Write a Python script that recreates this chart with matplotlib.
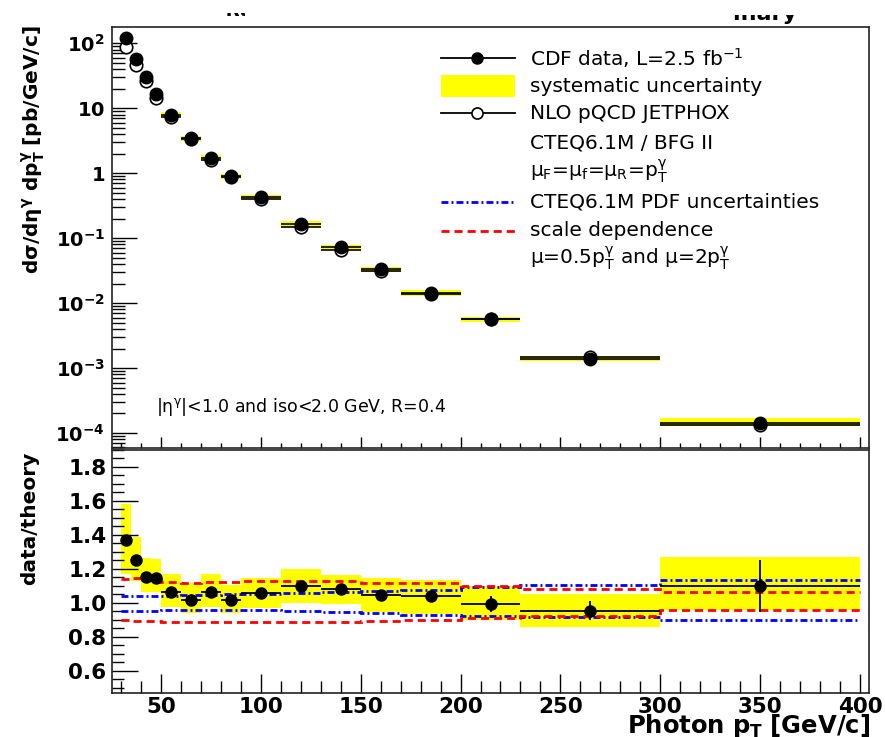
import numpy as np
import matplotlib
matplotlib.use('Agg')
import matplotlib.pyplot as plt
from matplotlib.lines import Line2D
from matplotlib.patches import Rectangle
from matplotlib.ticker import FixedLocator, FixedFormatter, MultipleLocator, LogLocator, NullFormatter

plt.rcParams['font.family'] = ['DejaVu Sans']
plt.rcParams['mathtext.fontset'] = 'dejavusans'

W, H = 885, 737

# photon pT bins, GeV/c
edges = np.array([30, 35, 40, 45, 50, 60, 70, 80, 90, 110, 130, 150, 170, 200, 230, 300, 400])

# d sigma / d eta dpT, pb/GeV/c
data_xs = np.array([120, 58, 30, 16.6, 7.9, 3.45, 1.72, 0.90, 0.43, 0.166, 0.072,
                    0.033, 0.0145, 0.0056, 0.00140, 0.000145])
theory_xs = np.array([87, 46.4, 26.0, 14.6, 7.40, 3.38, 1.61, 0.882, 0.406, 0.151, 0.0666,
                      0.0315, 0.0139, 0.00563, 0.00147, 0.000132])

# data / theory
ratio = np.array([1.37, 1.25, 1.15, 1.145, 1.067, 1.02, 1.066, 1.02, 1.058, 1.097, 1.081,
                  1.048, 1.042, 0.994, 0.955, 1.10])
ratio_stat = np.array([0.01, 0.01, 0.01, 0.01, 0.01, 0.01, 0.012, 0.012, 0.012, 0.015, 0.018,
                       0.022, 0.022, 0.045, 0.055, 0.155])
sys_lo = np.array([1.17, 1.13, 1.062, 1.062, 0.979, 0.938, 0.979, 0.938, 0.973, 1.0, 0.994,
                   0.946, 0.936, 0.90, 0.86, 0.96])
sys_hi = np.array([1.58, 1.388, 1.262, 1.256, 1.172, 1.12, 1.172, 1.108, 1.147, 1.20, 1.165,
                   1.146, 1.133, 1.10, 1.05, 1.273])

# theory uncertainties relative to central NLO
pdf_up = np.array([1.04, 1.04, 1.04, 1.04, 1.04, 1.045, 1.045, 1.05, 1.055, 1.06, 1.065,
                   1.07, 1.075, 1.095, 1.105, 1.135])
pdf_dn = np.array([0.955, 0.955, 0.955, 0.955, 0.96, 0.96, 0.96, 0.96, 0.958, 0.955, 0.948,
                   0.938, 0.93, 0.922, 0.918, 0.90])
scale_up = np.array([1.14, 1.145, 1.14, 1.14, 1.125, 1.12, 1.125, 1.125, 1.13, 1.13, 1.13,
                     1.12, 1.115, 1.10, 1.08, 1.065])
scale_dn = np.array([0.90, 0.895, 0.895, 0.895, 0.89, 0.885, 0.885, 0.885, 0.888, 0.888, 0.886,
                     0.893, 0.90, 0.91, 0.925, 0.96])

xs_ticks = [1e-4, 1e-3, 1e-2, 1e-1, 1, 10, 100]
xs_ticklabels = [r'$\mathbf{10^{-4}}$', r'$\mathbf{10^{-3}}$', r'$\mathbf{10^{-2}}$',
                 r'$\mathbf{10^{-1}}$', r'$\mathbf{1}$', r'$\mathbf{10}$', r'$\mathbf{10^{2}}$']
ratio_ticks = [0.6, 0.8, 1.0, 1.2, 1.4, 1.6, 1.8]
ratio_ticklabels = ['0.6', '0.8', '1.0', '1.2', '1.4', '1.6', '1.8']
pt_ticks = [50, 100, 150, 200, 250, 300, 350, 400]
pt_ticklabels = ['50', '100', '150', '200', '250', '300', '350', '400']

centers = (edges[:-1] + edges[1:]) / 2
halfw = np.diff(edges) / 2
widths = np.diff(edges)

dashdot = (0, (2.5, 1.1, 0.7, 1.1))
dashed = (0, (2.9, 1.8))


def fx(px):
    return px / W


def fy(py):
    return 1 - py / H


def white_box(x0, y0, x1, y1):
    # mask in pixel coords (top-left origin)
    fig.add_artist(Rectangle((fx(x0), fy(y1)), fx(x1) - fx(x0), fy(y0) - fy(y1),
                             color='white', lw=0, transform=fig.transFigure, zorder=20))


fig = plt.figure(figsize=(W / 100, H / 100), dpi=100)
ax1 = fig.add_axes([fx(112), fy(448), (869 - 112) / W, (448 - 27) / H])
ax2 = fig.add_axes([fx(112), fy(693), (869 - 112) / W, (693 - 450) / H])

# ---- top panel: cross section
ax1.bar(centers, theory_xs * (sys_hi - sys_lo), bottom=theory_xs * sys_lo, width=widths,
        color='yellow', lw=0, zorder=1)
ax1.errorbar(centers, theory_xs, xerr=halfw, fmt='o', ms=9, mfc='white', mec='black', mew=1.2,
             ecolor='black', elinewidth=1.2, capsize=0, zorder=2)
ax1.errorbar(centers, data_xs, xerr=halfw, yerr=data_xs * ratio_stat / ratio, fmt='o', ms=9,
             color='black', elinewidth=1.2, capsize=0, zorder=3)
ax1.set_yscale('log')
ax1.set_xlim(25.5, 404.5)
ax1.set_ylim(10 ** -4.23, 10 ** 2.25)
ax1.yaxis.set_major_locator(FixedLocator(xs_ticks))
ax1.yaxis.set_major_formatter(FixedFormatter(xs_ticklabels))
ax1.yaxis.set_minor_locator(LogLocator(base=10, subs=np.arange(2, 10), numticks=20))
ax1.yaxis.set_minor_formatter(NullFormatter())
ax1.xaxis.set_major_locator(FixedLocator(pt_ticks))
ax1.xaxis.set_minor_locator(MultipleLocator(10))
ax1.tick_params(axis='y', which='major', direction='in', length=18, width=1, labelsize=14, pad=5)
ax1.tick_params(axis='y', which='minor', direction='in', length=9, width=1)
ax1.tick_params(axis='x', which='major', direction='in', length=8, width=1, labelbottom=False)
ax1.tick_params(axis='x', which='minor', direction='in', length=3.5, width=1)

# ---- bottom panel: ratio
ax2.bar(centers, sys_hi - sys_lo, bottom=sys_lo, width=widths, color='yellow', lw=0, zorder=1)
ax2.stairs(pdf_up, edges, color='blue', lw=2, ls=dashdot, baseline=None, zorder=2)
ax2.stairs(pdf_dn, edges, color='blue', lw=2, ls=dashdot, baseline=None, zorder=2)
ax2.stairs(scale_up, edges, color='red', lw=2, ls=dashed, baseline=None, zorder=2)
ax2.stairs(scale_dn, edges, color='red', lw=2, ls=dashed, baseline=None, zorder=2)
ax2.errorbar(centers, ratio, xerr=halfw, yerr=ratio_stat, fmt='o', ms=8, color='black',
             elinewidth=1.3, capsize=0, zorder=3)
ax2.set_xlim(25.5, 404.5)
ax2.set_ylim(0.47, 1.9)
ax2.yaxis.set_major_locator(FixedLocator(ratio_ticks))
ax2.yaxis.set_major_formatter(FixedFormatter(ratio_ticklabels))
ax2.yaxis.set_minor_locator(MultipleLocator(0.05))
ax2.xaxis.set_major_locator(FixedLocator(pt_ticks))
ax2.xaxis.set_major_formatter(FixedFormatter(pt_ticklabels))
ax2.xaxis.set_minor_locator(MultipleLocator(10))
ax2.tick_params(axis='y', which='major', direction='in', length=19, width=1, labelsize=15.5, pad=4)
ax2.tick_params(axis='y', which='minor', direction='in', length=8.5, width=1)
ax2.tick_params(axis='x', which='major', direction='in', length=14, width=1, labelsize=15.5, pad=3)
ax2.tick_params(axis='x', which='minor', direction='in', length=9, width=1)
for lbl in ax2.get_xticklabels() + ax2.get_yticklabels():
    lbl.set_fontweight('bold')

for ax in (ax1, ax2):
    for sp in ax.spines.values():
        sp.set_linewidth(1.2)
        sp.set_color('#222222')

# ---- axis titles
fig.text(fx(33), fy(25), r'$\mathbf{d\sigma/d\eta^{\gamma}\ dp_{T}^{\gamma}\ [pb/GeV/c]}$',
         rotation=90, ha='center', va='top', fontsize=14.5)
fig.text(fx(30), fy(452), 'data/theory', rotation=90, ha='center', va='top',
         fontsize=14.5, fontweight='bold')
fig.text(fx(870), fy(733), r'$\mathbf{Photon\ p_{T}\ [GeV/c]}$', ha='right', va='baseline',
         fontsize=17.5)

# ---- legend
lx0, lx1, lxm, tx = 441, 515, 477, 530
rows = [58.3, 86.7, 113.3, 143.3, 171.7, 201.7, 231.0, 258.3]
labels = [r'CDF data, L=2.5 fb$^{\mathregular{-1}}$', 'systematic uncertainty', 'NLO pQCD JETPHOX',
          'CTEQ6.1M / BFG II',
          r'$\mathregular{\mu_{F}}$=$\mathregular{\mu_{f}}$=$\mathregular{\mu_{R}}$=$\mathregular{p_{T}^{\gamma}}$',
          'CTEQ6.1M PDF uncertainties', 'scale dependence',
          r'$\mathregular{\mu}$=0.5$\mathregular{p_{T}^{\gamma}}$ and $\mathregular{\mu}$=2$\mathregular{p_{T}^{\gamma}}$']
for y, lab in zip(rows, labels):
    fig.text(fx(tx), fy(y), lab, ha='left', va='center', fontsize=14.5)

fig.add_artist(Line2D([fx(lx0), fx(lx1)], [fy(rows[0])] * 2, color='black', lw=1.3))
fig.add_artist(Line2D([fx(lxm)], [fy(rows[0])], marker='o', ms=8, color='black'))
fig.add_artist(Rectangle((fx(lx0), fy(96.7)), fx(lx1) - fx(lx0), fy(75) - fy(96.7),
                         color='yellow', lw=0, transform=fig.transFigure))
fig.add_artist(Line2D([fx(lx0), fx(lx1)], [fy(rows[2])] * 2, color='black', lw=1.3))
fig.add_artist(Line2D([fx(lxm)], [fy(rows[2])], marker='o', ms=8, mfc='white', mec='black', mew=1.2))
fig.add_artist(Line2D([fx(lx0), fx(lx1)], [fy(rows[5])] * 2, color='blue', lw=2, ls=dashdot))
fig.add_artist(Line2D([fx(lx0), fx(lx1)], [fy(rows[6])] * 2, color='red', lw=2, ls=dashed))

# ---- selection note
fig.text(fx(156), fy(407), r'|$\mathregular{\eta^{\gamma}}$|<1.0 and iso<2.0 GeV, R=0.4',
         ha='left', va='center', fontsize=12.5)

# ---- title text, mostly hidden behind the top edge
fig.text(fx(797), fy(20.5), 'CDF Run II Preliminary', ha='right', va='baseline',
         fontsize=16, fontweight='bold')
fig.text(fx(232), fy(16), 'CDF Run II', ha='center', va='baseline',
         fontsize=13, fontweight='bold')
white_box(380, 0, 885, 15)
white_box(380, 15, 733, 26)
white_box(120, 0, 360, 13)
white_box(120, 13, 219, 26)
white_box(245, 13, 360, 26)

fig.savefig('out.png', dpi=100)
